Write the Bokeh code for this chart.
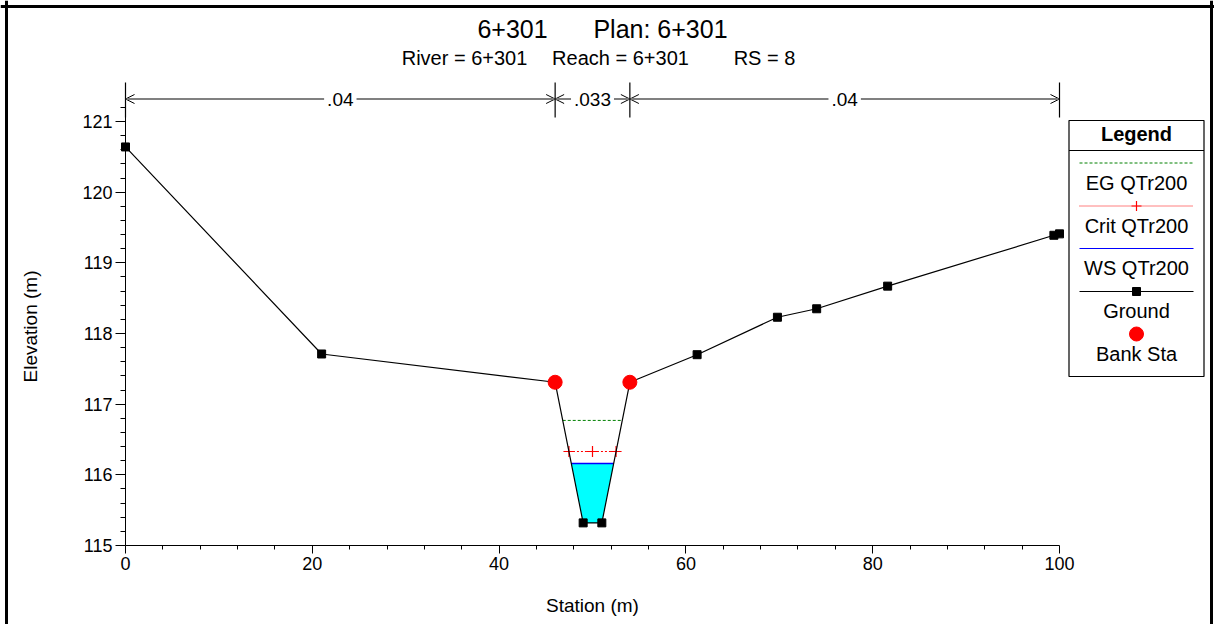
from bokeh.plotting import figure
from bokeh.models import Range1d, LinearAxis, FixedTicker, Arrow, OpenHead, Label, Span, ColumnDataSource
from bokeh.core.properties import value
from bokeh.embed import file_html
from bokeh.resources import INLINE

# ---------------- data ----------------
station = [0, 21, 46, 49, 51, 54, 61.2, 69.8, 74, 81.6, 99.4, 100]
elevation = [120.64, 117.71, 117.31, 115.32, 115.32, 117.31, 117.70, 118.23, 118.35, 118.67, 119.39, 119.41]
bank_sta = [46, 54]
bank_elev = [117.31, 117.31]
ws_elev = 116.16
crit_elev = 116.33
eg_elev = 116.77
n_breaks = [0, 46, 54, 100]
n_values = [".04", ".033", ".04"]
x_ticks = [0, 20, 40, 60, 80, 100]
y_ticks = [115, 116, 117, 118, 119, 120, 121]
legend_names = ["EG QTr200", "Crit QTr200", "WS QTr200", "Ground", "Bank Sta"]
title_parts = ["6+301", "Plan: 6+301"]
subtitle_parts = ["River = 6+301", "Reach = 6+301", "RS = 8"]

FONT = "Liberation Sans"

# ---------------- pixel <-> data helpers (layout only) ----------------
W, H = 1214, 624
PX0, PX100 = 125.0, 1059.0
PY115, PY121 = 545.0, 121.0
kx = (PX100 - PX0) / 100.0
ky = (PY115 - PY121) / 6.0


def X(ax):
    return (ax - PX0) / kx


def Y(ay):
    return 115.0 + (PY115 - ay) / ky


p = figure(width=W, height=H, x_range=Range1d(X(0), X(W)), y_range=Range1d(Y(H), Y(0)),
           output_backend="svg", toolbar_location=None,
           x_axis_location=None, y_axis_location=None,
           min_border_left=0, min_border_right=0, min_border_top=0, min_border_bottom=0)
p.grid.visible = False
p.outline_line_color = None
p.background_fill_color = "white"
p.border_fill_color = "white"


def crossings(level):
    out = []
    for i in range(len(station) - 1):
        s0, s1 = station[i], station[i + 1]
        e0, e1 = elevation[i], elevation[i + 1]
        if (e0 - level) * (e1 - level) < 0:
            out.append(s0 + (level - e0) * (s1 - s0) / (e1 - e0))
    return out[0], out[-1]


# water fill
wl, wr = crossings(ws_elev)
wx = [wl] + [s for s, e in zip(station, elevation) if wl < s < wr] + [wr]
wy = [ws_elev] + [e for s, e in zip(station, elevation) if wl < s < wr] + [ws_elev]
p.patch(wx, wy, fill_color="#00FFFF", line_color=None)
p.line([wl, wr], [ws_elev, ws_elev], line_color="#0000FF", line_width=1.5)

# EG
el, er = crossings(eg_elev)
p.line([el, er], [eg_elev, eg_elev], line_color="#008000", line_width=1, line_dash="3 2")

# Crit
cl, cr = crossings(crit_elev)
p.line([cl, cr], [crit_elev, crit_elev], line_color="#FF0000", line_width=1, line_dash="2 2")
p.scatter([cl, (cl + cr) / 2, cr], [crit_elev] * 3, marker="cross", size=11,
          line_color="#FF0000", line_width=1.2)

# ground
p.line(station, elevation, line_color="black", line_width=1.2)
p.scatter(station, elevation, marker="square", size=8, fill_color="black", line_color="black")

# bank stations
p.scatter(bank_sta, bank_elev, marker="circle", size=14, fill_color="#FF0000", line_color="#FF0000")

# ---------------- axes ----------------
yminor = [round(115 + 0.2 * i, 1) for i in range(1, 32) if i % 5 != 0]
xminor = [4 * i for i in range(1, 25) if i % 5 != 0]

yaxis = LinearAxis(fixed_location=0, bounds=(115, 121.2),
                   ticker=FixedTicker(ticks=y_ticks, minor_ticks=yminor))
xaxis = LinearAxis(fixed_location=115, bounds=(0, 100),
                   ticker=FixedTicker(ticks=x_ticks, minor_ticks=xminor))
for ax in (yaxis, xaxis):
    ax.axis_line_color = "black"
    ax.axis_line_width = 1
    ax.major_tick_line_color = "black"
    ax.minor_tick_line_color = "black"
    ax.major_tick_in = 0
    ax.minor_tick_in = 0
    ax.major_label_text_font = FONT
    ax.major_label_text_font_size = "18px"
    ax.major_label_text_color = "black"
    ax.axis_label_text_font = FONT
    ax.axis_label_text_font_size = "19px"
    ax.axis_label_text_font_style = "normal"
    ax.axis_label_text_color = "black"
yaxis.major_tick_out = 10
yaxis.minor_tick_out = 5
yaxis.major_label_standoff = 3
yaxis.axis_label = "Elevation (m)"
yaxis.axis_label_standoff = 38
xaxis.major_tick_out = 8
xaxis.minor_tick_out = 4
xaxis.major_label_standoff = 3
xaxis.axis_label = "Station (m)"
xaxis.axis_label_standoff = 22
p.add_layout(yaxis, "left")
p.add_layout(xaxis, "below")

# ---------------- Manning's n markers ----------------
ya = Y(98.5)
p.segment(x0=n_breaks, y0=[Y(117)] * len(n_breaks), x1=n_breaks, y1=[Y(82)] * len(n_breaks),
          line_color="black", line_width=1.2)
for i, lab in enumerate(n_values):
    b0, b1 = n_breaks[i], n_breaks[i + 1]
    p.add_layout(Arrow(x_start=b0, x_end=b1, y_start=ya, y_end=ya,
                       line_color="#808080", line_width=2,
                       start=OpenHead(size=9, line_color="black", line_width=1),
                       end=OpenHead(size=9, line_color="black", line_width=1)))
    p.add_layout(Label(x=(b0 + b1) / 2, y=ya, text=lab, text_align="center", text_baseline="middle",
                       text_font=FONT, text_font_size="19px", text_color="black",
                       background_fill_color="white", padding=3))

# ---------------- titles ----------------
for txt, cx in zip(title_parts, [512, 660]):
    p.add_layout(Label(x=X(cx), y=Y(28), text=txt, text_align="center", text_baseline="middle",
                       text_font=FONT, text_font_size="25px", text_color="black"))
for txt, cx in zip(subtitle_parts, [464, 620, 764]):
    p.add_layout(Label(x=X(cx), y=Y(57.5), text=txt, text_align="center", text_baseline="middle",
                       text_font=FONT, text_font_size="20px", text_color="black"))

# ---------------- legend (drawn box) ----------------
LX0, LX1, LT, LB = 1068.5, 1203.5, 120, 376
LC = (LX0 + LX1) / 2
p.quad(left=[X(LX0)], right=[X(LX1)], top=[Y(LT)], bottom=[Y(LB)],
       fill_color="white", line_color="black", line_width=1.2)
p.segment(x0=[X(LX0)], y0=[Y(150)], x1=[X(LX1)], y1=[Y(150)], line_color="black", line_width=1)
p.add_layout(Label(x=X(LC), y=Y(133.5), text="Legend", text_align="center", text_baseline="middle",
                   text_font=FONT, text_font_size="20px", text_font_style="bold", text_color="black"))
sx0, sx1 = X(1079), X(1193)
p.line([sx0, sx1], [Y(162.5)] * 2, line_color="#008000", line_width=1, line_dash="3 2")
p.line([sx0, sx1], [Y(205.5)] * 2, line_color="#FF0000", line_width=1, line_dash="1 1")
p.scatter([X(LC)], [Y(205.5)], marker="cross", size=10, line_color="#FF0000", line_width=1.2)
p.line([sx0, sx1], [Y(248)] * 2, line_color="#0000FF", line_width=1.2)
p.line([sx0, sx1], [Y(291)] * 2, line_color="black", line_width=1.2)
p.scatter([X(LC)], [Y(291)], marker="square", size=8, fill_color="black", line_color="black")
p.scatter([X(LC)], [Y(333.5)], marker="circle", size=14, fill_color="#FF0000", line_color="#FF0000")
leg_src = ColumnDataSource(dict(x=[X(LC)] * len(legend_names),
                                y=[Y(v) for v in [182, 225.5, 267, 310, 353]],
                                t=legend_names))
p.text(x="x", y="y", text="t", source=leg_src, text_align="center", text_baseline="middle",
       text_font=value(FONT), text_font_size="20px", text_color="black")

# ---------------- outer frame ----------------
p.add_layout(Span(location=X(6), dimension="height", line_color="black", line_width=3))
p.add_layout(Span(location=X(1211), dimension="height", line_color="black", line_width=3))
p.add_layout(Span(location=Y(6), dimension="width", line_color="black", line_width=3))

open("out.html", "w").write(file_html(p, INLINE))
